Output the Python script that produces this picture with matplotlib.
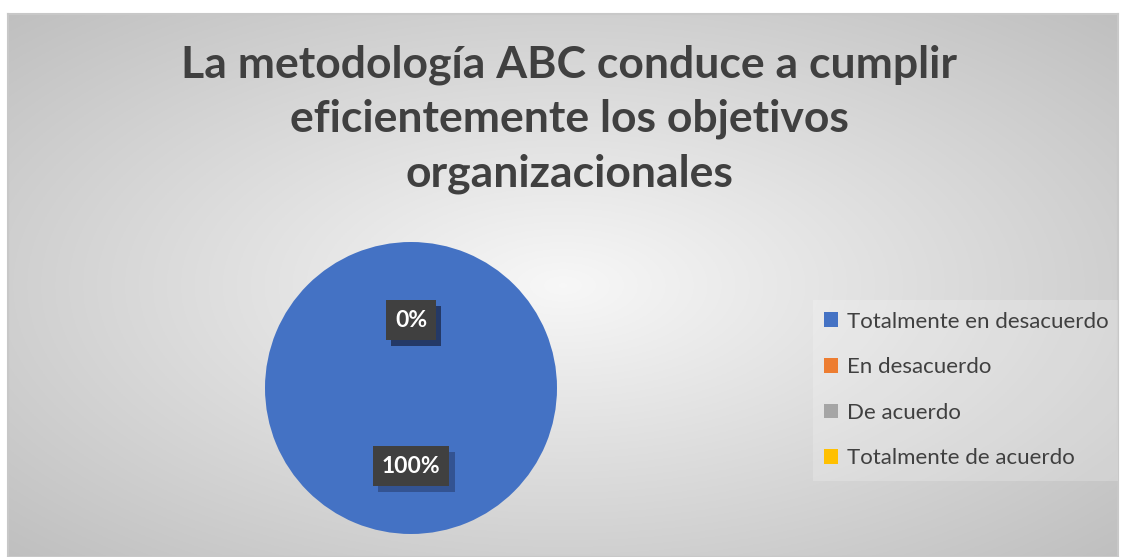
import numpy as np
import matplotlib
matplotlib.use("Agg")
import matplotlib.pyplot as plt
from matplotlib.patches import Rectangle

categories = ["Totalmente en desacuerdo", "En desacuerdo", "De acuerdo", "Totalmente de acuerdo"]
values = [100, 0, 0, 0]
colors = ["#4472c4", "#ed7d31", "#a5a5a5", "#ffc000"]
title = "La metodología ABC conduce a cumplir\neficientemente los objetivos\norganizacionales"

W, H = 1121, 557
fig = plt.figure(figsize=(W / 100, H / 100), dpi=100)
fig.patch.set_facecolor("white")

# chart area with radial gradient background
bg = fig.add_axes([8 / W, 0, (1118 - 8) / W, (557 - 14) / H])
yy, xx = np.mgrid[-1:1:300j, -1:1:600j]
r = np.sqrt(xx ** 2 + yy ** 2) / np.sqrt(2)
shade = 0.97 - 0.22 * r
bg.imshow(np.dstack([shade, shade, shade]), aspect="auto", extent=[0, 1, 0, 1])
bg.set_xlim(0, 1)
bg.set_ylim(0, 1)
bg.set_xticks([])
bg.set_yticks([])
for s in bg.spines.values():
    s.set_color("#c8c8c8")
    s.set_linewidth(1.5)

fig.text(0.508, 0.92, title, ha="center", va="top", fontsize=32, fontweight="bold",
         color="#404040", family=["Lato", "DejaVu Sans"], linespacing=1.42)

ax = fig.add_axes([(411 - 146) / W, (557 - 534) / H, 292 / W, 292 / H])
wedges, texts, autotexts = ax.pie(values, colors=colors, startangle=90, counterclock=False,
                                  autopct="%d%%", pctdistance=0.5,
                                  wedgeprops=dict(linewidth=0))
ax.set_xlim(-1, 1)
ax.set_ylim(-1, 1)
ax.set_aspect("equal")
for t in autotexts:
    x, y = t.get_position()
    y -= 0.035
    t.set_position((x, y))
    # shadow box behind the label
    ax.text(x + 0.035, y - 0.04, t.get_text(), ha="center", va="center", fontsize=16.5,
            fontweight="bold", color=(0, 0, 0, 0), family=["Lato", "DejaVu Sans"],
            bbox=dict(boxstyle="square,pad=0.4", facecolor="#1f2f55", edgecolor="none", alpha=0.45),
            zorder=3)
    t.set_color("white")
    t.set_fontsize(16.5)
    t.set_fontweight("bold")
    t.set_family(["Lato", "DejaVu Sans"])
    t.set_bbox(dict(boxstyle="square,pad=0.4", facecolor="#404040", edgecolor="none"))
    t.set_zorder(4)

# legend
leg_bg = Rectangle((813 / W, (557 - 481) / H), (1118 - 813) / W, 181 / H, transform=fig.transFigure,
                   facecolor="white", alpha=0.2, edgecolor="none")
fig.patches.append(leg_bg)
handles = [Rectangle((0, 0), 1, 1, facecolor=c, edgecolor="none") for c in colors]
leg = fig.legend(handles, categories, loc="center left", bbox_to_anchor=(804 / W, (557 - 390) / H),
                 frameon=False, prop={"family": ["Lato", "DejaVu Sans"], "size": 16},
                 labelcolor="#404040", handlelength=0.65, handleheight=0.65, handletextpad=0.4,
                 labelspacing=1.15)

fig.savefig("out.png", dpi=100)
